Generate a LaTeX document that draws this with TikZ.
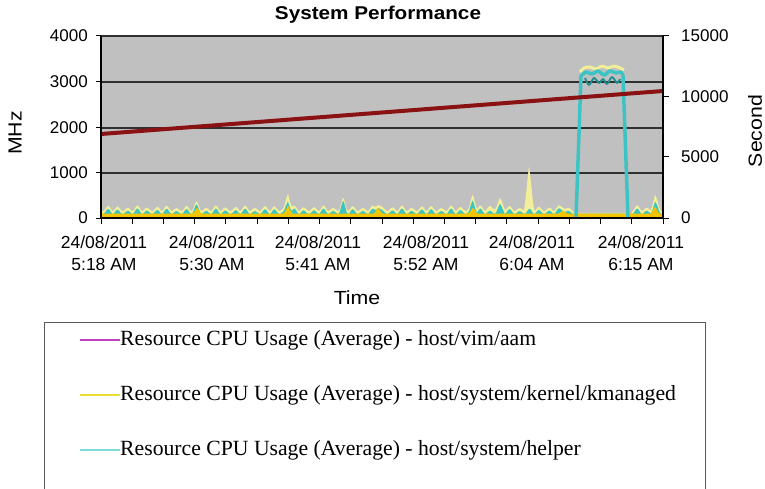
\documentclass[tikz,border=0pt]{standalone}
\usepackage{fontspec}
\setmainfont{Liberation Serif}
\newfontfamily\arialf{Liberation Sans}
\newfontfamily\arialw[FakeStretch=1.12]{Liberation Sans}
\definecolor{plotbg}{HTML}{C0C0C0}
\definecolor{gridc}{HTML}{303030}
\definecolor{redl}{HTML}{8B1212}
\definecolor{paley}{HTML}{F2EE9A}
\definecolor{cyanf}{HTML}{3CC4C4}
\definecolor{goldf}{HTML}{F4C400}
\definecolor{teald}{HTML}{1A8E8E}
\definecolor{legmag}{HTML}{C040C0}
\definecolor{legyel}{HTML}{E8E030}
\definecolor{legcya}{HTML}{80DCDC}
\tikzset{
  declare function={
    sw(\x)=sin((\x-103.1)*18.367);
    hump(\x)=sw(\x)*sw(\x);
    tri(\x,\c,\w)=max(0,1-abs(\x-\c)/\w);
    msk(\x)=ifthenelse(\x<574,1,ifthenelse(\x>632,1,0));
    hg(\x)=4.5+6*tri(\x,197,4)+8*tri(\x,288,4)+6*tri(\x,378,4)+6*tri(\x,473,4)+7*tri(\x,655,4)+3*tri(\x,563,4);
    hc(\x)=hg(\x)+msk(\x)*(5.5*hump(\x)*(0.75+0.25*sin(\x*13.7))-0.5)+4*tri(\x,288,4)+9*tri(\x,343,4)+6*tri(\x,473,4)+6*tri(\x,500,5)+3*tri(\x,655,4);
    hp(\x)=hc(\x)+msk(\x)*2.5+0.6+5*tri(\x,288,5)+3*tri(\x,473,5)+40*tri(\x,529,5)+4*tri(\x,655,5)+3*tri(\x,500,8)+2*tri(\x,490,6);
  },
  ticklab/.style={font=\arialf\fontsize{17}{22}\selectfont, inner sep=0pt},
  datelab/.style={font=\arialf\fontsize{17.5}{22}\selectfont, align=center, inner sep=0pt},
  axtitle/.style={font=\arialw\fontsize{19}{22}\selectfont, inner sep=0pt},
  legtext/.style={font=\fontsize{21.7}{24}\selectfont, anchor=west, inner sep=0pt},
  legline/.style={line width=2.8pt},
}
\begin{document}
\begin{tikzpicture}[x=1pt,y=-1pt]
\useasboundingbox (0,0) rectangle (765,489);
% plot background
\fill[plotbg] (101,36) rectangle (663,218);
\foreach \yy in {36,82,128,173}
  \draw[gridc, line width=1.2pt] (101,\yy) -- (663,\yy);
% noise fills
\fill[paley] (101,218) -- plot[domain=101:663,samples=500] (\x,{218-hp(\x)}) -- (663,218) -- cycle;
\fill[cyanf] (101,218) -- plot[domain=101:663,samples=500] (\x,{218-hc(\x)}) -- (663,218) -- cycle;
\fill[goldf] (101,218) -- plot[domain=101:663,samples=500] (\x,{218-hg(\x)}) -- (663,218) -- cycle;
% plateau
\draw[paley, line width=3pt, line join=round] plot[smooth] coordinates {(580,72) (584,68) (590,67) (596,69) (602,66) (608,68) (614,66) (620,68) (624,70)};
\draw[cyanf, line width=3.5pt, line join=round] (576,218) -- (581,76) -- plot[smooth] coordinates {(581,76) (586,72) (592,74) (598,71) (604,75) (610,71) (616,73) (621,72) (623,76)} -- (628,218);
\draw[teald, line width=1.8pt, line join=round] plot[smooth] coordinates {(585,78) (589,85) (594,78) (599,83) (603,79) (607,84) (612,77) (617,83) (620,79)};
% red line
\draw[redl, line width=4pt] (101,134) -- (663,91);
% axes
\draw[black, line width=1.2pt] (101,36) -- (101,218) -- (663,218);
\draw[black, line width=1.2pt] (663,36) -- (663,218);
\foreach \yy in {36,82,128,173,218}
  \draw[black, line width=1pt] (96,\yy) -- (101,\yy);
\foreach \yy in {36,97,157,218}
  \draw[black, line width=1pt] (663,\yy) -- (669,\yy);
\foreach \i in {0,...,18}
  \draw[black, line width=1pt] ({101+\i*31.222},218) -- ({101+\i*31.222},224);
% left tick labels
\node[ticklab, anchor=east] (l4) at (88,36) {4000};
\node[ticklab, anchor=east] (l3) at (88,82) {3000};
\node[ticklab, anchor=east] (l2) at (88,128) {2000};
\node[ticklab, anchor=east] (l1) at (88,173) {1000};
\node[ticklab, anchor=east] (l0) at (88,218) {0};
% right tick labels
\node[ticklab, anchor=west] (r3) at (681,36) {15000};
\node[ticklab, anchor=west] (r2) at (681,97) {10000};
\node[ticklab, anchor=west] (r1) at (681,157) {5000};
\node[ticklab, anchor=west] (r0) at (681,218) {0};
% date labels
\node[datelab] (d1) at (104,253) {24/08/2011\\5:18 AM};
\node[datelab] (d2) at (212,253) {24/08/2011\\5:30 AM};
\node[datelab] (d3) at (318,253) {24/08/2011\\5:41 AM};
\node[datelab] (d4) at (426,253) {24/08/2011\\5:52 AM};
\node[datelab] (d5) at (532,253) {24/08/2011\\6:04 AM};
\node[datelab] (d6) at (641,253) {24/08/2011\\6:15 AM};
% titles
\node[font=\bfseries\arialw\fontsize{18.5}{22}\selectfont, inner sep=0pt] (title) at (378,15) {System Performance};
\node[axtitle, rotate=90] (mhz) at (15,133) {MHz};
\node[axtitle, rotate=90] (sec) at (755,131) {Second};
\node[axtitle] (time) at (357,298) {Time};
% legend
\draw[black!65, line width=1pt] (44,489) -- (44,322) -- (705,322) -- (705,489);
\coordinate (m1) at (80,340);
\coordinate (m2) at (80,395);
\coordinate (m3) at (80,450);
\node[legtext] (t1) at (120,340) {Resource CPU Usage (Average) - host/vim/aam};
\node[legtext] (t2) at (120,395) {Resource CPU Usage (Average) - host/system/kernel/kmanaged};
\node[legtext] (t3) at (120,450) {Resource CPU Usage (Average) - host/system/helper};
\draw[legline, legmag] (m1) -- (t1.west);
\draw[legline, legyel] (m2) -- (t2.west);
\draw[legline, legcya] (m3) -- (t3.west);
\end{tikzpicture}
\end{document}
